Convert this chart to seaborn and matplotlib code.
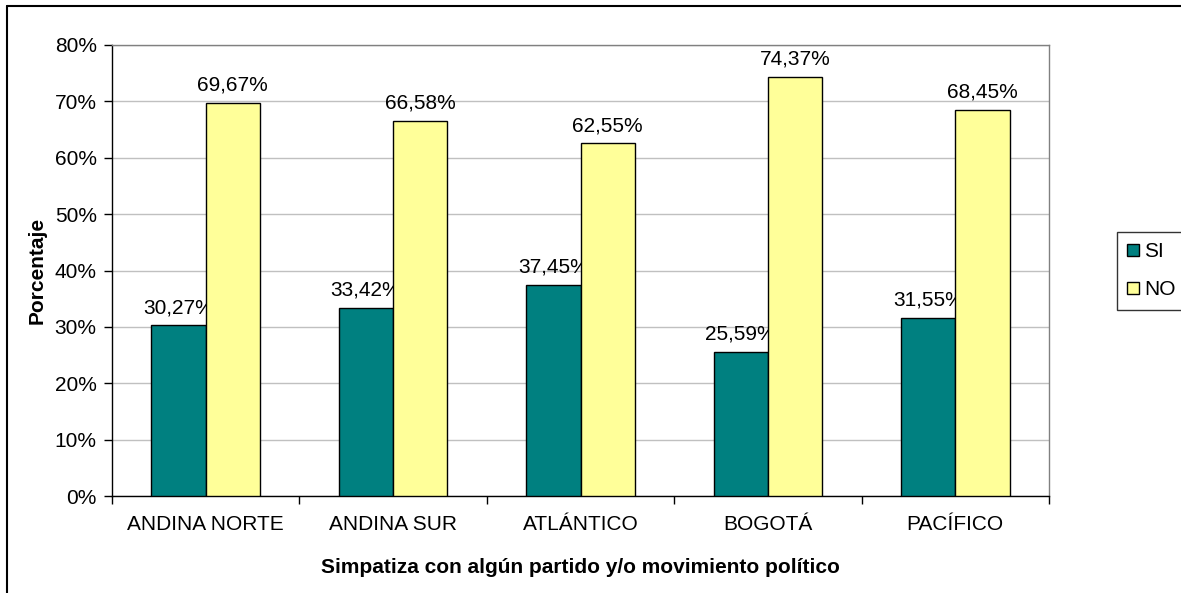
import pandas as pd
import matplotlib.pyplot as plt
import seaborn as sns
from matplotlib.lines import Line2D
from matplotlib.ticker import FixedLocator, FuncFormatter

regions = ["ANDINA NORTE", "ANDINA SUR", "ATLÁNTICO", "BOGOTÁ", "PACÍFICO"]
si_values = [30.27, 33.42, 37.45, 25.59, 31.55]
no_values = [69.67, 66.58, 62.55, 74.37, 68.45]
series = ["SI", "NO"]
colors = ["#008080", "#FFFF99"]

df = pd.DataFrame({
    "region": regions * 2,
    "valor": si_values + no_values,
    "serie": [series[0]] * len(regions) + [series[1]] * len(regions),
})

sns.set_style("white")
plt.rcParams['font.family'] = ['Liberation Sans', 'DejaVu Sans']
plt.rcParams['text.color'] = "black"
plt.rcParams['axes.labelcolor'] = "black"
plt.rcParams['xtick.color'] = "black"
plt.rcParams['ytick.color'] = "black"

fig = plt.figure(figsize=(11.81, 5.93), dpi=100)
ax = fig.add_axes([112 / 1181, 1 - 496 / 593, (1049 - 112) / 1181, (496 - 45) / 593])

sns.barplot(data=df, x="region", y="valor", hue="serie", palette=colors,
            width=0.58, saturation=1, edgecolor="black", linewidth=1,
            ax=ax, zorder=3)

# value labels with comma decimal
for container in ax.containers:
    ax.bar_label(container, labels=[f"{v:.2f}%".replace(".", ",") for v in container.datavalues],
                 padding=6, fontsize=15, color="black", zorder=2)

ax.set_ylim(0, 80)
ax.set_xlim(-0.5, len(regions) - 0.5)
ax.set_yticks(range(0, 81, 10))
ax.yaxis.set_major_formatter(FuncFormatter(lambda v, p: f"{v:.0f}%"))
ax.yaxis.grid(True, color="#c0c0c0", linewidth=1)
ax.set_axisbelow(True)

# ticks between categories, labels centered
ax.xaxis.set_minor_locator(FixedLocator([i - 0.5 for i in range(len(regions) + 1)]))
ax.tick_params(axis="x", which="major", length=0, pad=14, labelsize=15)
ax.tick_params(axis="x", which="minor", length=6, width=1, bottom=True)
ax.tick_params(axis="y", length=6, width=1, pad=5, labelsize=15, left=True)

for side in ["left", "bottom"]:
    ax.spines[side].set_color("black")
    ax.spines[side].set_linewidth(1)
for side in ["top", "right"]:
    ax.spines[side].set_color("#808080")
    ax.spines[side].set_linewidth(1)

ax.set_xlabel("Simpatiza con algún partido y/o movimiento político",
              fontsize=15, fontweight="bold", labelpad=17)
ax.set_ylabel("Porcentaje", fontsize=15, fontweight="bold", labelpad=6)

handles, labels = ax.get_legend_handles_labels()
ax.legend(handles, labels, loc="upper left",
          bbox_to_anchor=(1117 / 1181, 1 - 232 / 593), bbox_transform=fig.transFigure,
          fontsize=15, frameon=True, fancybox=False, edgecolor="black",
          handlelength=0.55, handleheight=0.55, handletextpad=0.25,
          borderpad=0.5, borderaxespad=0, labelspacing=0.9)
ax.get_legend().get_frame().set_linewidth(1)

# outer chart border (only left and top visible)
x0 = 7 / 1181
y0 = 1 - 6 / 593
fig.add_artist(Line2D([x0, x0], [0, y0], color="black", linewidth=1.5, transform=fig.transFigure))
fig.add_artist(Line2D([x0, 1], [y0, y0], color="black", linewidth=1.5, transform=fig.transFigure))

fig.savefig("out.png", dpi=100)
